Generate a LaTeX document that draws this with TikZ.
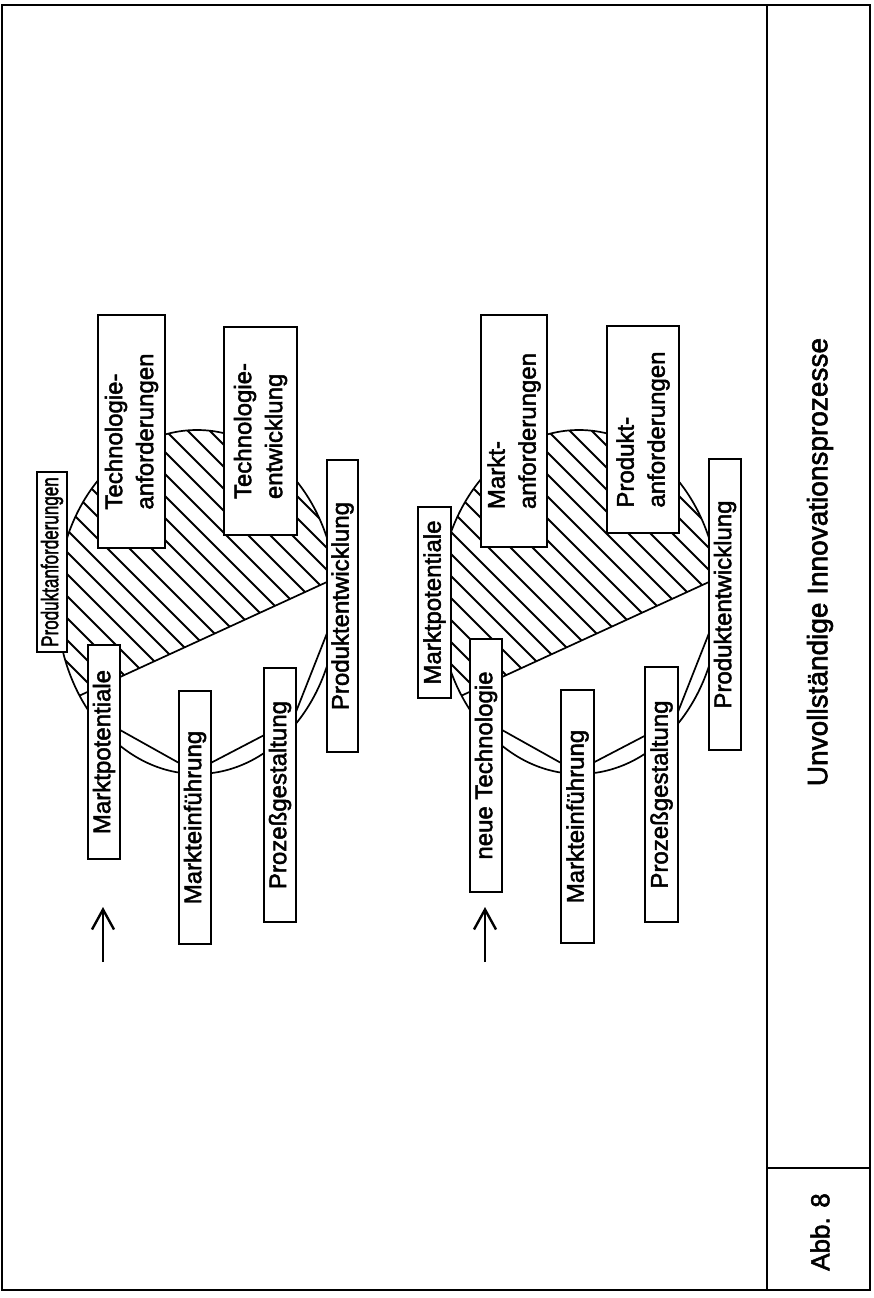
\documentclass[tikz,border=0pt]{standalone}
\usepackage{fontspec}
\usepackage{graphicx}
\setmainfont{Liberation Sans}[BoldFont={Liberation Sans}, BoldFeatures={FakeBold=2}]
\usetikzlibrary{arrows.meta}
\newcommand\labelbox[6]{\node[lbl, minimum width={#3-#2}, minimum height={#5-#4}] (#1) at ({(#2+#3)/2},{(#4+#5)/2}) {\rotatebox{90}{#6}};}
\newcommand\twolines[2]{\begin{tabular}{@{}l@{}}#1\\#2\end{tabular}}
\newcommand\cyclebody{%
  \begin{scope}
    \clip (197,602) ellipse [x radius=140, y radius=172];
    \clip (0,732.1) -- (400,548.5) -- (400,380) -- (0,380) -- cycle;
    \foreach \k in {-16,...,16} {\draw[hatchline] (\k*22+5,380) -- ++(440,440);}
  \end{scope}
  \draw[ell] (197,602) ellipse [x radius=140, y radius=172];
  \draw[ell] (80,695.4) -- (335,578.3);
  \draw[ell] (112,725.5) -- (188,768);
  \draw[ell] (203,767) -- (272,731);
  \draw[ell] (290,727) -- (333,618);
}
\begin{document}
\begin{tikzpicture}[x=1pt,y=-1pt,
  lbl/.style={draw=black, line width=1.8pt, fill=white, inner sep=0pt, font=\fontsize{24}{31}\selectfont\bfseries},
  frame/.style={line width=2pt},
  ell/.style={line width=1.7pt},
  hatchline/.style={line width=1.8pt},
  uparrow/.style={line width=2.4pt, -{Straight Barb[length=20pt,width=22pt,line width=2.4pt]}}]
\useasboundingbox (0,0) rectangle (874,1298);
% frame
\draw[frame] (2,5) rectangle (870,1290);
\draw[frame] (767,5) -- (767,1290);
\draw[frame] (767,1168) -- (870,1168);
\node[rotate=90, font=\fontsize{28}{34}\selectfont\bfseries] (title) at (820,562) {Unvollständige Innovationsprozesse};
\node[rotate=90, font=\fontsize{26}{32}\selectfont\bfseries] (abb) at (820,1232) {Abb. 8};
% upper cycle
\cyclebody
\begin{scope}[xshift=382pt]
\cyclebody
\end{scope}
% boxes, first cycle
\labelbox{pa}{37}{67}{472}{652}{\scalebox{0.71}[1]{Produktanforderungen}}
\labelbox{ta}{98}{165}{315}{548}{\twolines{Technologie-}{anforderungen}}
\labelbox{te}{224}{297}{327}{535}{\twolines{Technologie-}{entwicklung}}
\labelbox{pe}{327}{358}{460}{752}{Produktentwicklung}
\labelbox{mp}{88}{120}{645}{859}{Marktpotentiale}
\labelbox{me}{179}{211}{691}{944}{Markteinführung}
\labelbox{pg}{264}{296}{668}{922}{Prozeßgestaltung}
% boxes, second cycle
\labelbox{mpb}{418}{451}{507}{698}{Marktpotentiale}
\labelbox{ma}{481}{547}{315}{547}{\twolines{Markt-}{anforderungen}}
\labelbox{pab}{607}{679}{326}{533}{\twolines{Produkt-}{anforderungen}}
\labelbox{peb}{709}{741}{459}{750}{Produktentwicklung}
\labelbox{nt}{470}{502}{639}{892}{neue Technologie}
\labelbox{meb}{561}{594}{690}{943}{Markteinführung}
\labelbox{pgb}{645}{678}{667}{922}{Prozeßgestaltung}
% arrows
\coordinate (a1s) at (103,962);
\coordinate (a1e) at (103,907);
\coordinate (a2s) at (485,962);
\coordinate (a2e) at (485,907);
\draw[uparrow] (a1s) -- (a1e);
\draw[uparrow] (a2s) -- (a2e);
\end{tikzpicture}
\end{document}
